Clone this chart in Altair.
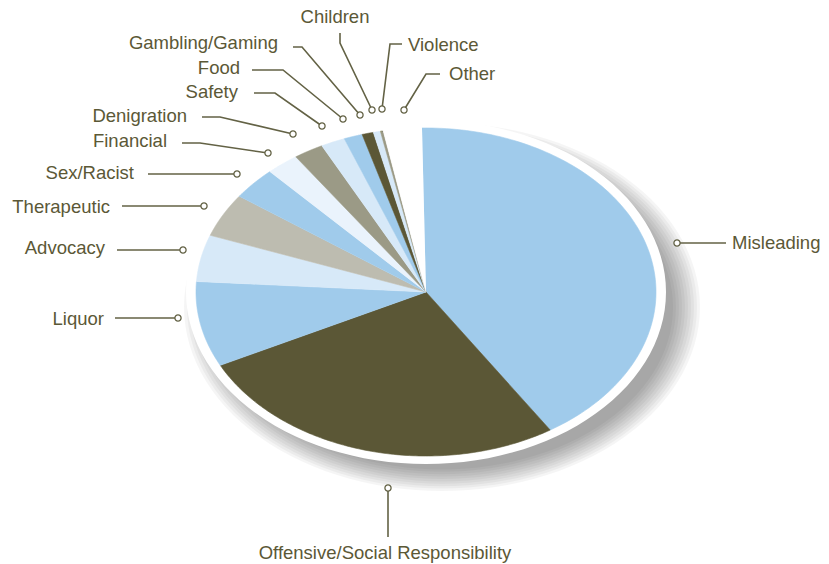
import altair as alt
import pandas as pd

# ---------------- data ----------------
categories = ["Misleading", "Offensive/Social Responsibility", "Liquor", "Advocacy",
              "Therapeutic", "Sex/Racist", "Financial", "Denigration", "Safety",
              "Food", "Gambling/Gaming", "Children", "Violence", "Other"]
values = [41.2, 26.7, 8.4, 4.6, 4.3, 3.2, 2.3, 2.1, 1.7, 1.3, 0.8, 0.5, 0.2, 2.7]

# ---------------- style ----------------
BLUE, OLIVE, PALE, BEIGE, PALEST, GREY, WHITE = (
    "#a0cbeb", "#5b5736", "#d7e9f8", "#bdbcb0", "#eaf3fc", "#9b9a86", "#ffffff")
slice_colors = [BLUE, OLIVE, BLUE, PALE, BEIGE, BLUE, PALEST, GREY, PALE, BLUE,
                OLIVE, PALE, GREY, WHITE]
TEXT = "#5b5836"
LEADER = "#636245"
FONT = "Liberation Sans"
FS = 18.5

W, H = 829, 564
CX, CY, RX, RY = 426, 292, 230, 164
START_DEG = -1.0
N = 120

# ---------------- annotation layout (pixels) ----------------
label_layout = {
    # label: (text x, text y, align, leader polyline from text side to dot)
    "Misleading": (732, 243, "left", [(726, 243), (677, 243)]),
    "Offensive/Social Responsibility": (385, 553, "center", [(388, 537), (388, 488)]),
    "Liquor": (104, 319, "right", [(115, 318), (178, 318)]),
    "Advocacy": (105, 248, "right", [(117, 250), (183, 250)]),
    "Therapeutic": (110, 207, "right", [(122, 206), (204, 206)]),
    "Sex/Racist": (134, 173, "right", [(148, 174), (237, 174)]),
    "Financial": (167, 141, "right", [(182, 143), (200, 143), (268, 153)]),
    "Denigration": (187, 116, "right", [(202, 117), (220, 117), (293, 134)]),
    "Safety": (238, 92, "right", [(254, 93), (275, 93), (322, 126)]),
    "Food": (240, 68, "right", [(252, 70), (283, 70), (343, 119)]),
    "Gambling/Gaming": (278, 43, "right", [(293, 47), (302, 47), (360, 115)]),
    "Children": (335, 17, "center", [(340, 33), (340, 43), (372, 110)]),
    "Violence": (408, 45, "left", [(402, 44), (390, 44), (382, 109)]),
    "Other": (449, 74, "left", [(440, 74), (426, 74), (404, 110)]),
}

xs = alt.Scale(domain=[0, W], nice=False, zero=False)
ys = alt.Scale(domain=[0, H], nice=False, zero=False, reverse=True)
X = lambda f: alt.X(f, type="quantitative", scale=xs, axis=None)
Y = lambda f: alt.Y(f, type="quantitative", scale=ys, axis=None)


def ellipse(chart, with_center=True):
    k0 = -1 if with_center else 0
    return (chart
            .transform_calculate(k=f"sequence({k0}, {N + 1})")
            .transform_flatten(["k"])
            .transform_calculate(
                th=f"datum.k < 0 ? 0 : datum.t0 + (datum.t1 - datum.t0) * datum.k / {N}")
            .transform_calculate(
                px="datum.k < 0 ? datum.cx : datum.cx + datum.rx * sin(datum.th)",
                py="datum.k < 0 ? datum.cy : datum.cy - datum.ry * cos(datum.th)"))


# shadow layers (soft grey beneath the disc, towards the lower right)
shadow_rows = []
for i in range(10):
    g = 30 - i * 3
    shadow_rows.append(dict(sid=i, cx=CX + 16, cy=CY + 15, rx=RX - 2 + g, ry=RY - 4 + g * 0.8,
                            t0=0.0, t1=6.2832, op=0.04))
shadow = ellipse(alt.Chart(pd.DataFrame(shadow_rows)), with_center=False).mark_line(
    strokeWidth=0, interpolate="linear").encode(
    x=X("px"), y=Y("py"), detail="sid:N", order=alt.Order("k:Q"),
    fill=alt.value("#000000"), fillOpacity=alt.FillOpacity("op:Q", scale=None))

rim_df = pd.DataFrame([dict(sid=0, cx=CX, cy=CY, rx=RX + 10, ry=RY + 8, t0=0.0, t1=6.2832)])
rim = ellipse(alt.Chart(rim_df), with_center=False).mark_line(
    strokeWidth=0, interpolate="linear").encode(
    x=X("px"), y=Y("py"), detail="sid:N", order=alt.Order("k:Q"),
    fill=alt.value(WHITE))

pie_df = pd.DataFrame({"category": categories, "value": values, "color": slice_colors,
                       "idx": list(range(len(categories)))})
pie_df["cx"], pie_df["cy"], pie_df["rx"], pie_df["ry"] = CX, CY, RX, RY
pie_base = (alt.Chart(pie_df)
            .transform_joinaggregate(total="sum(value)")
            .transform_window(cum="sum(value)", sort=[alt.SortField("idx")], frame=[None, 0])
            .transform_calculate(
                t1=f"{START_DEG} * PI / 180 + datum.cum / datum.total * 2 * PI",
                t0=f"{START_DEG} * PI / 180 + (datum.cum - datum.value) / datum.total * 2 * PI"))
pie = ellipse(pie_base).mark_line(strokeWidth=0.6, interpolate="linear").encode(
    x=X("px"), y=Y("py"), detail="category:N", order=alt.Order("k:Q"),
    fill=alt.Fill("color:N", scale=None), stroke=alt.Stroke("color:N", scale=None))

# leaders, dots and labels
lead_rows, dot_rows, text_rows = [], [], []
for lab, (tx, ty, al, pts) in label_layout.items():
    for j, (px, py) in enumerate(pts):
        lead_rows.append(dict(label=lab, seq=j, x=px, y=py))
    dot_rows.append(dict(label=lab, x=pts[-1][0], y=pts[-1][1]))
    text_rows.append(dict(label=lab, x=tx, y=ty, align=al))

leaders = alt.Chart(pd.DataFrame(lead_rows)).mark_line(
    color=LEADER, strokeWidth=1.6).encode(
    x=X("x"), y=Y("y"), detail="label:N", order=alt.Order("seq:Q"))
dots = alt.Chart(pd.DataFrame(dot_rows)).mark_point(
    shape="circle", filled=True, fill=WHITE, stroke=LEADER, strokeWidth=1.3, size=38,
    opacity=1).encode(x=X("x"), y=Y("y"))

text_df = pd.DataFrame(text_rows)
texts = []
for al in ["left", "right", "center"]:
    texts.append(alt.Chart(text_df).transform_filter(alt.datum.align == al).mark_text(
        align=al, baseline="middle", font=FONT, fontSize=FS, color=TEXT).encode(
        x=X("x"), y=Y("y"), text="label:N"))

chart = alt.layer(shadow, rim, pie, leaders, dots, *texts).properties(
    width=W, height=H, padding=0, autosize=alt.AutoSizeParams(type="none"),
    background="white").configure_view(stroke=None)

chart.save("out.html", embed_options={"renderer": "svg", "actions": False})
